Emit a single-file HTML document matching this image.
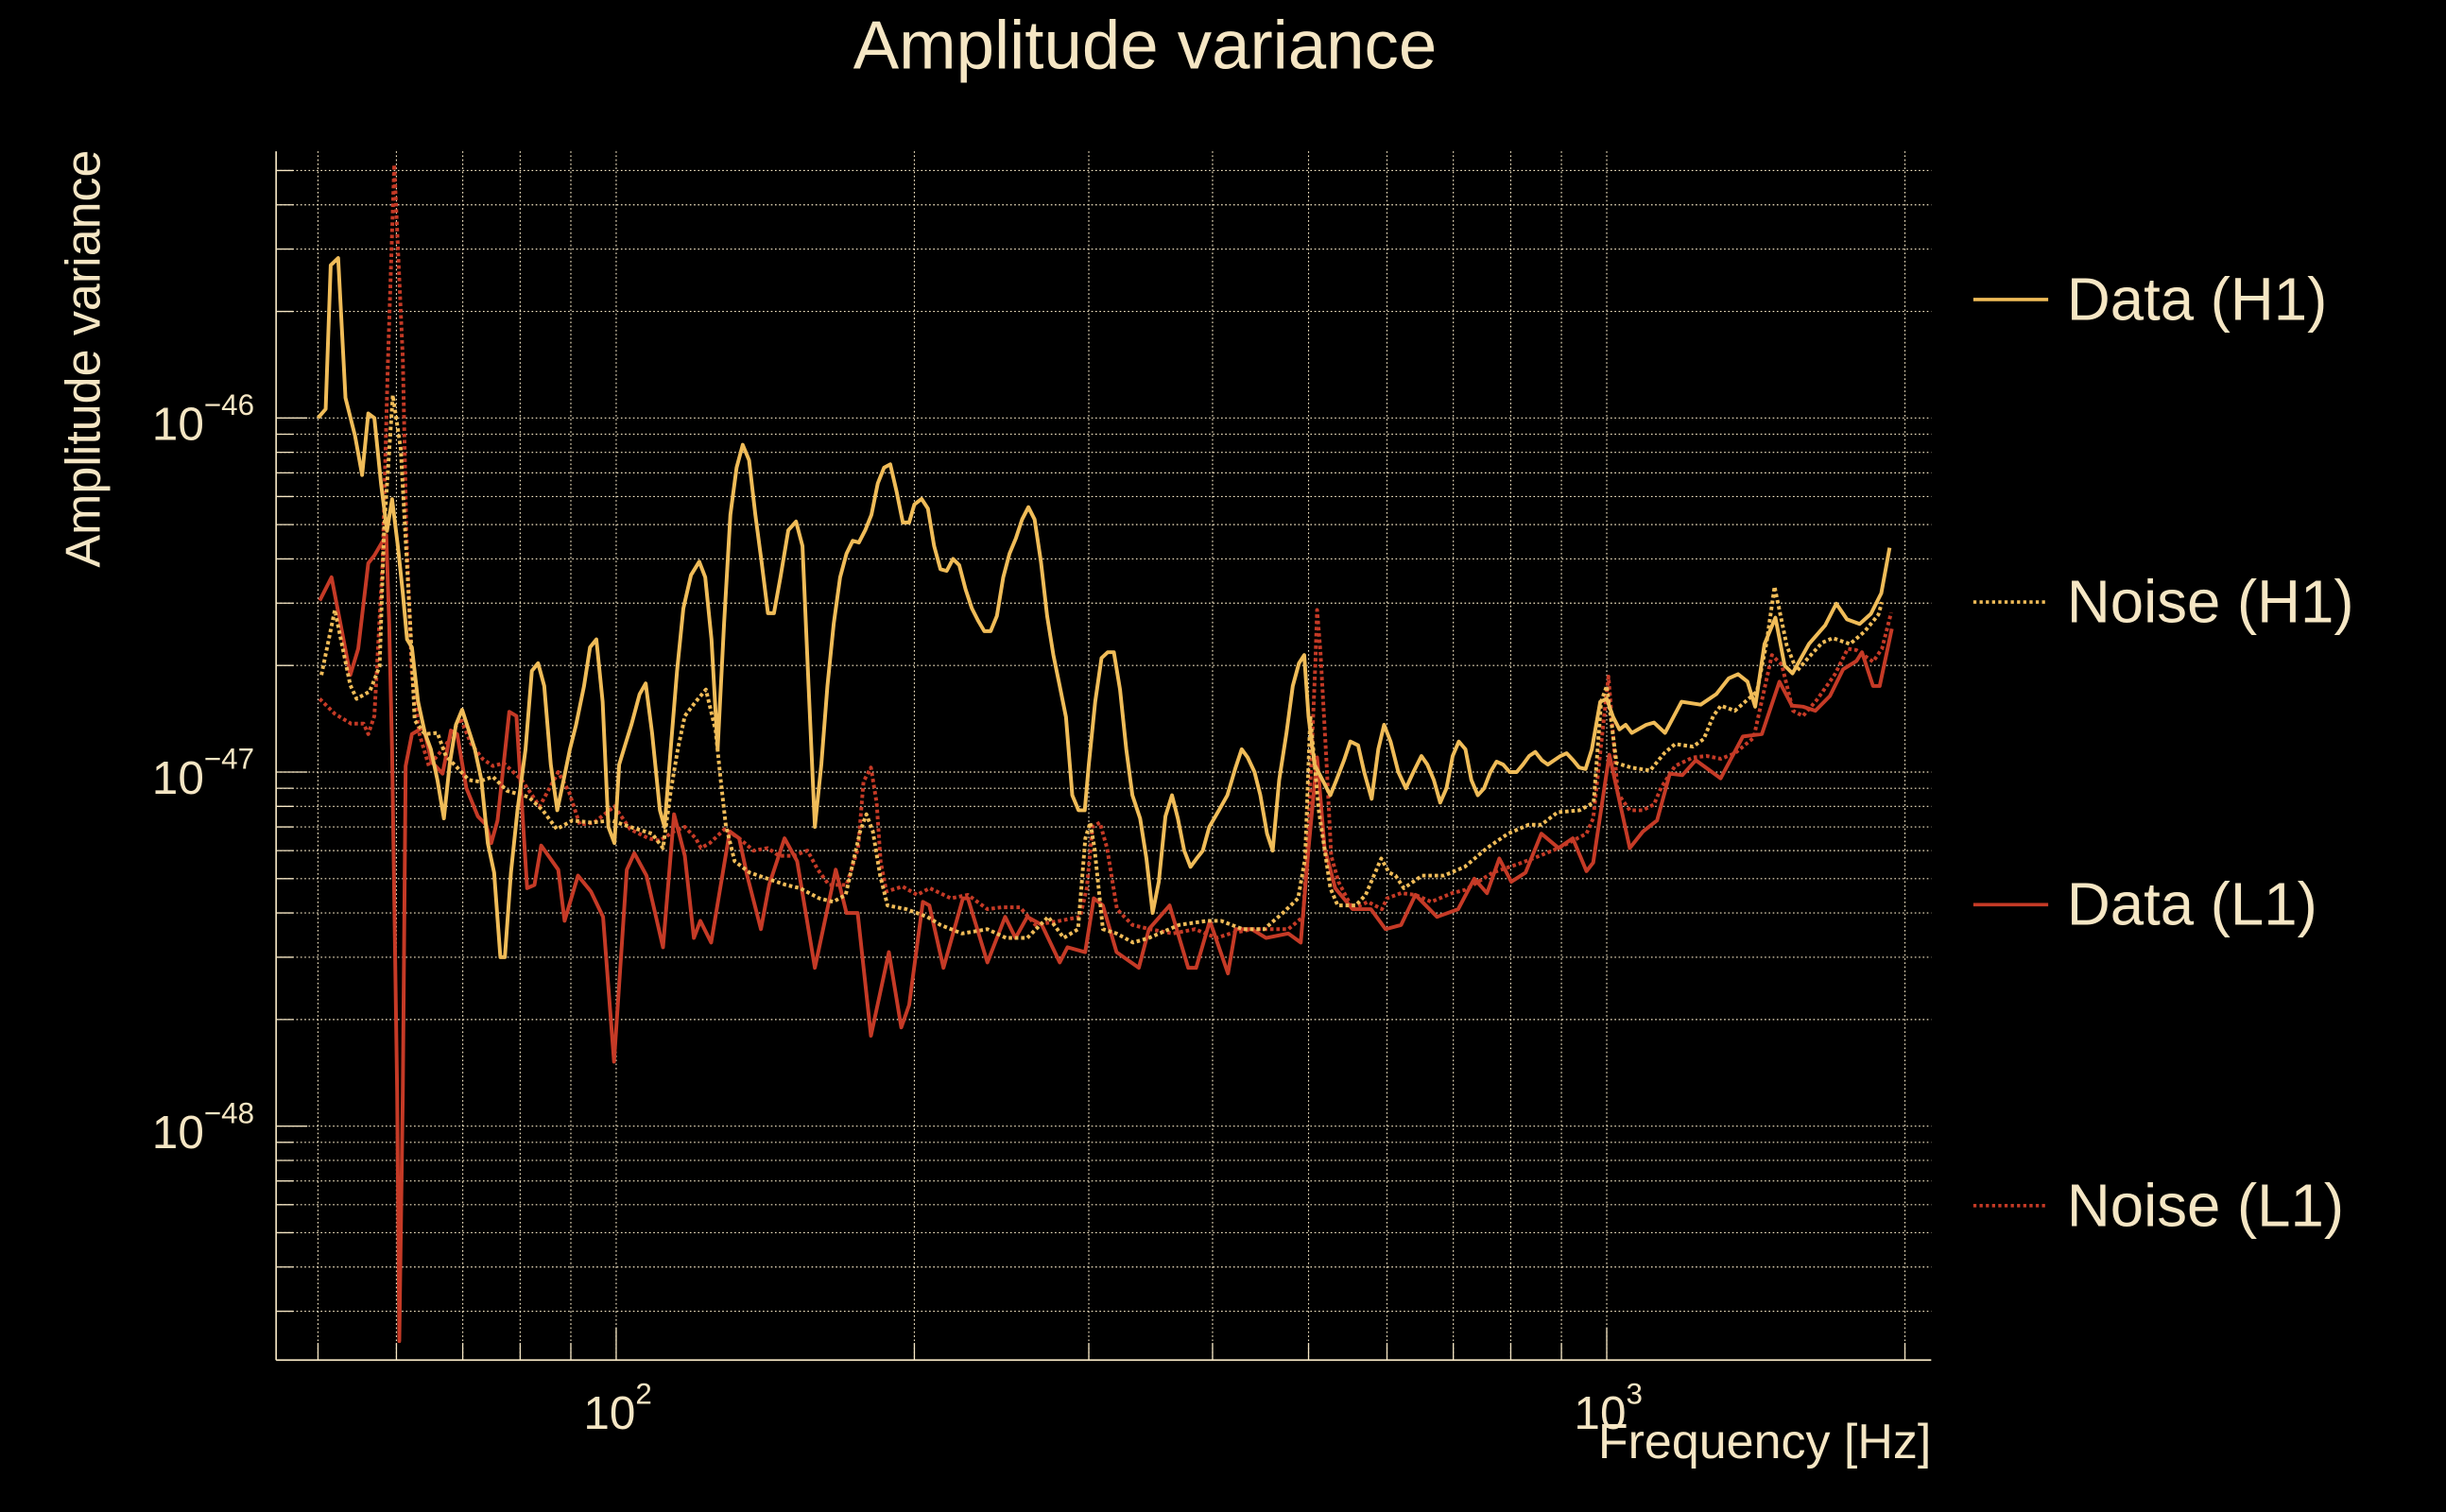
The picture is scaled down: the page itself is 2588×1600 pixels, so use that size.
<!DOCTYPE html>
<html><head><meta charset="utf-8"><title>Amplitude variance</title>
<style>
html,body{margin:0;padding:0;background:#000;}
svg{display:block;}
text{font-family:"Liberation Sans",sans-serif;fill:#f5e6c4;}
</style></head>
<body>
<svg id="chart" width="2588" height="1600" viewBox="0 0 1568 969.4" preserveAspectRatio="none" xmlns="http://www.w3.org/2000/svg">
<rect x="0" y="0" width="1568" height="970" fill="#000"/>
<text x="734" y="44" font-size="44" text-anchor="middle">Amplitude variance</text>
<text transform="translate(64,230) rotate(-90)" font-size="31.5" text-anchor="middle">Amplitude variance</text>
<text x="1238" y="935" font-size="31.5" text-anchor="end">Frequency [Hz]</text>
<g id="grid"></g>
<g id="axes"></g>
<clipPath id="plotclip"><rect x="177" y="97" width="1061" height="775"/></clipPath>
<g id="series" clip-path="url(#plotclip)"></g>
<g id="legend"></g>
</svg>
<script>
// ---- data (values in units of 1e-47) ----
const h1Freq=[50,50.9,51.5,52.4,53.3,54.5,55.4,56.2,57,57.9,58.7,59.4,60.2,60.9,61.5,62.2,63.1,64.1,65,66,67,67.9,68.9,69.9,71,72,73.1,74.2,75.3,76.4,77.2,78.3,79.5,81,82.2,83.4,84.6,85.9,87.2,88.5,89.8,91.1,92.8,94.1,95.5,96.9,98.2,99.6,100.7,101.8,103.6,105.6,107.1,108.7,110.7,111.9,113.5,115.2,116.9,119,121.3,123,124.8,126.6,128.5,130.4,132.3,134.2,136.2,138.2,140.2,142.3,144.3,146.5,149.2,151.9,154.2,156.4,158.7,161.1,163.4,165.8,168.3,170.8,173.3,175.8,178.4,181,183.7,186.4,189.1,191.9,194.7,197.6,200,203.4,206.4,209.4,212.5,215.6,218.8,222,225.3,228.6,231.9,235.3,238.8,242.3,245.9,249.5,253.2,256.9,260.7,264.5,268.4,272.3,276.3,280.4,284.5,288.7,292.9,297.2,300,304.5,309,313.5,318,322.6,327.3,332,338,343,348,353,358.5,364,369,374.5,380,385.5,391,397,406,414,422,428,434,441,447,454,460,467,475,482,489,495,500,507,516.5,526,533.5,543,551,561,569,579,588,596,605,616,627,638,650,659,669,679,689,699,709,720,730,741,752,763,774,786,798,811,823,835,847,860,872,885,898,911,925,938,952,966,985,1000,1015,1030,1045,1060,1096,1116,1145,1190,1244,1290,1328,1357,1387,1412,1443,1480,1512,1540,1600,1662,1705,1748,1800,1848,1893,1930];
const h1Val=[10,10.6,27,28.3,11.4,8.9,6.9,10.3,10,6.5,4.8,5.9,4.35,3.2,2.37,2.25,1.58,1.29,1.16,0.95,0.74,1.05,1.36,1.5,1.31,1.16,0.95,0.63,0.52,0.30,0.30,0.52,0.78,1.16,1.93,2.03,1.75,1.05,0.78,0.95,1.16,1.36,1.75,2.25,2.37,1.58,0.70,0.63,1.05,1.16,1.36,1.66,1.78,1.29,0.78,0.70,1.16,1.93,2.9,3.6,3.93,3.55,2.37,1.16,2.62,5.33,7.24,8.4,7.6,5.33,3.93,2.81,2.81,3.55,4.82,5.1,4.35,1.75,0.70,1.05,1.75,2.62,3.55,4.14,4.5,4.45,4.82,5.33,6.54,7.24,7.4,6.2,5.07,5.07,5.7,5.91,5.55,4.35,3.74,3.7,4.0,3.84,3.28,2.9,2.68,2.5,2.5,2.76,3.55,4.14,4.57,5.17,5.6,5.17,3.93,2.76,2.14,1.75,1.43,0.86,0.78,0.78,1.05,1.58,2.1,2.18,2.18,1.71,1.16,0.86,0.74,0.57,0.40,0.49,0.75,0.86,0.74,0.60,0.54,0.57,0.60,0.70,0.78,0.86,1.03,1.16,1.10,1.0,0.86,0.67,0.60,0.95,1.29,1.75,2.03,2.14,1.43,1.05,0.95,0.86,0.95,1.08,1.22,1.19,1.0,0.84,1.16,1.36,1.22,1.0,0.90,1.0,1.11,1.05,0.95,0.82,0.90,1.11,1.22,1.16,0.95,0.86,0.90,1.0,1.07,1.05,1.0,1.0,1.05,1.11,1.14,1.08,1.05,1.08,1.11,1.13,1.08,1.03,1.02,1.16,1.58,1.61,1.43,1.32,1.36,1.29,1.36,1.38,1.29,1.58,1.55,1.66,1.84,1.89,1.8,1.53,2.3,2.73,2.0,1.9,2.3,2.6,2.99,2.7,2.62,2.8,3.2,4.3];

const nh1Freq=[50.4,52.0,53.9,54.7,56.4,57.7,58.3,59.5,60.6,62.0,62.6,64.1,66.0,67.3,69.1,71.0,72.7,75.1,77.6,81.6,84.3,87.1,90.3,94.4,98.9,103.3,108.7,111.5,113.5,115.4,117.3,120.3,123.2,126.0,127.5,129,131.7,136.4,142.1,148.4,153.3,160.3,165.6,170.5,176.3,178.9,181.6,184.7,187.9,196.3,206.1,212.5,223.4,237,247.5,260,273,283,292.6,297.6,301,304,310,320,332.5,345,370,395,408,429,451,471,488,496,502,512,526,535,558,571,592,603,612,624,651,685,719,757,795,834,859,892,939,970,987,1000,1023,1058,1106,1143,1172,1222,1253,1281,1304,1347,1418,1450,1477,1520,1556,1597,1650,1691,1760,1820,1880,1896];
const nh1Val=[1.88,2.87,1.76,1.61,1.69,1.99,4.82,11.6,8.2,2.52,1.40,1.28,1.29,1.11,1.03,0.95,0.94,0.97,0.885,0.85,0.78,0.69,0.73,0.72,0.73,0.70,0.67,0.61,0.88,1.16,1.44,1.58,1.71,1.31,0.95,0.71,0.56,0.52,0.50,0.48,0.47,0.44,0.43,0.45,0.68,0.76,0.68,0.51,0.42,0.41,0.39,0.37,0.35,0.36,0.34,0.34,0.39,0.34,0.36,0.65,0.72,0.61,0.36,0.35,0.33,0.34,0.37,0.38,0.38,0.36,0.36,0.40,0.44,0.57,1.44,0.78,0.47,0.42,0.42,0.45,0.57,0.52,0.51,0.47,0.51,0.51,0.54,0.61,0.67,0.71,0.71,0.77,0.78,0.82,1.58,1.75,1.06,1.03,1.01,1.13,1.2,1.18,1.24,1.44,1.54,1.49,1.69,2.32,3.34,2.27,1.93,2.10,2.32,2.39,2.30,2.49,2.78,3.02];

const l1Freq=[50.2,51.6,53.9,54.9,56.2,57.0,58.6,59.0,59.4,60.1,60.4,60.9,61.3,62.2,63.9,65.1,66.8,68.1,69.1,70.6,72.5,73.9,74.8,75.9,78.0,79.3,81.3,82.7,84.0,87.4,88.7,91.5,94.3,97.0,99.5,102.5,104.3,107.3,111.5,114.4,117.3,119.8,121.6,124.7,130.2,133.1,135.6,140,142.7,147.9,152.3,158.7,166.6,170.8,175.3,180.8,188.5,194,197.6,204,207.1,214,223.9,226.5,237,247,253,260,269,280.4,285.5,297.5,303.5,310,320,337,345,362,378,385,397.5,414.6,422,438,453,477,491,500,510,519,532,554,578,598,620,641,674,708,735,757,779,801,828,859,894,924,954,969,1006,1055,1088,1124,1158,1192,1230,1303,1372,1434,1494,1538,1578,1624,1680,1732,1787,1810,1857,1886,1940];
const l1Val=[3.05,3.55,1.88,2.23,3.89,4.09,4.67,2.62,1.14,0.125,0.0247,0.125,1.04,1.28,1.34,1.07,0.99,1.31,1.28,0.90,0.75,0.71,0.63,0.73,1.48,1.44,0.47,0.48,0.62,0.53,0.38,0.51,0.46,0.39,0.152,0.53,0.59,0.51,0.32,0.76,0.58,0.34,0.38,0.33,0.68,0.65,0.51,0.36,0.48,0.65,0.56,0.28,0.53,0.40,0.40,0.18,0.31,0.19,0.22,0.43,0.42,0.28,0.44,0.44,0.29,0.39,0.34,0.39,0.37,0.29,0.32,0.31,0.44,0.42,0.31,0.28,0.36,0.42,0.28,0.28,0.38,0.27,0.36,0.36,0.34,0.35,0.33,0.61,1.1,0.61,0.47,0.41,0.41,0.36,0.37,0.45,0.39,0.41,0.50,0.455,0.57,0.49,0.52,0.67,0.61,0.65,0.525,0.555,1.12,0.61,0.68,0.73,0.99,0.98,1.08,0.96,1.26,1.28,1.80,1.54,1.53,1.49,1.64,1.95,2.06,2.18,1.75,1.75,2.54];

const nl1Freq=[50.2,52.0,54.0,55.6,56.2,57.0,58.1,58.8,59.7,60.9,61.4,62.2,63.3,64.7,67.3,69.6,71.4,73.3,75.1,77.0,80.3,83.7,87.4,89.6,91.9,95.0,99.6,103.3,107.8,110.6,114.4,117.3,120.3,121.8,124.3,128.7,133.1,137.6,142.2,146,151,156,159.8,164,170.8,175.5,177.7,180.8,183.2,184.9,187.4,194.6,201.3,207.3,217.7,226.5,237,245,255.7,265,280.4,294,298.6,302.6,307.8,313,320.3,332,345.7,364.8,384,403.6,417,438.8,453,477,493.7,500,508,510,514,521,527,536,554,574,593,600,620,641,665,698,720,767,814,849,894,954,969,1004,1026,1055,1087,1116,1135,1172,1222,1262,1304,1347,1407,1468,1502,1542,1578,1630,1700,1751,1787,1857,1896,1937];
const nl1Val=[1.61,1.46,1.37,1.37,1.28,1.44,3.9,13.8,52,14.7,4.78,1.88,1.28,1.04,1.19,1.42,1.2,1.09,1.04,1.06,0.95,0.80,1.0,0.88,0.71,0.72,0.80,0.69,0.65,0.64,0.68,0.70,0.65,0.61,0.63,0.69,0.65,0.60,0.61,0.58,0.58,0.60,0.53,0.48,0.48,0.61,0.94,1.03,0.82,0.56,0.46,0.475,0.45,0.47,0.44,0.45,0.41,0.415,0.415,0.37,0.38,0.39,0.47,0.70,0.72,0.61,0.41,0.37,0.36,0.35,0.36,0.34,0.35,0.36,0.36,0.36,0.39,0.70,2.03,2.87,2.19,1.1,0.58,0.49,0.41,0.43,0.41,0.44,0.455,0.45,0.43,0.455,0.465,0.52,0.55,0.575,0.61,0.67,0.74,1.86,0.87,0.78,0.78,0.81,0.905,1.04,1.10,1.11,1.09,1.13,1.25,2.14,2.01,1.49,1.44,1.60,1.89,2.23,2.21,2.05,2.23,2.82];

const yTickExps=[-46,-47,-48];
const xTickExps=[2,3];
const legendLabels=["Data (H1)","Noise (H1)","Data (L1)","Noise (L1)"];

// ---- scales ----
const UNIT_EXP=-47;
function xs(f){return 395+635*(Math.log10(f)-2);}
function ysLog(e){return 495-227*(e-UNIT_EXP);}
function ys(u){return ysLog(Math.log10(u)+UNIT_EXP);}
const PL=177,PR=1238,PT=97,PB=872;
const NS="http://www.w3.org/2000/svg";
const CREAM="#f5e6c4",GOLD="#f0bc58",RED="#c53a26";
function mk(tag,attrs,parent){const e=document.createElementNS(NS,tag);for(const k in attrs)e.setAttribute(k,attrs[k]);parent.appendChild(e);return e;}

const grid=document.getElementById('grid'),axes=document.getElementById('axes');
for(let d=1;d<=3;d++){for(let k=1;k<=9;k++){const f=k*Math.pow(10,d);const x=xs(f);if(x<PL||x>PR)continue;
  const gl=mk('line',{x1:x,x2:x,y1:PT,y2:PB,stroke:CREAM,'stroke-width':0.7,'stroke-dasharray':'1 1.6'},grid);
  
  
  const tk=mk('line',{x1:x,x2:x,y1:PB,y2:PB-(k===1?21:11),stroke:CREAM,'stroke-width':0.8},axes);
  
  
}}
for(let e=-49;e<=-45;e++){for(let k=1;k<=9;k++){const le=Math.log10(k)+e;const y=ysLog(le);if(y<PT||y>PB)continue;
  const gl=mk('line',{x1:PL,x2:PR,y1:y,y2:y,stroke:CREAM,'stroke-width':0.7,'stroke-dasharray':'1 1.6'},grid);
  
  
  const tk=mk('line',{x1:PL,x2:PL+(k===1?20:11),y1:y,y2:y,stroke:CREAM,'stroke-width':0.8},axes);
  
  
}}
const sp1=mk('line',{x1:PL,x2:PL,y1:PT,y2:PB,stroke:CREAM,'stroke-width':1},axes);


const sp2=mk('line',{x1:PL,x2:PR,y1:PB,y2:PB,stroke:CREAM,'stroke-width':1},axes);


yTickExps.forEach(e=>{const y=ysLog(e);
  const t=mk('text',{x:163,y:y+14,'font-size':30,'text-anchor':'end'},axes);
  
  
  t.textContent='10';
  const s=mk('tspan',{dy:-16,'font-size':19},t);s.textContent='\u2212'+Math.abs(e);
});
xTickExps.forEach(d=>{const x=xs(Math.pow(10,d));
  const t=mk('text',{x:x+1,y:916,'font-size':30,'text-anchor':'middle'},axes);
  
  
  t.textContent='10';
  const s=mk('tspan',{dy:-16,'font-size':19},t);s.textContent=String(d);
});
const seriesLayer=document.getElementById('series');
function drawSeries(fr,vals,color,dotted,name){
  const n=Math.min(fr.length,vals.length);let d='';
  for(let i=0;i<n;i++){d+=(i?'L':'M')+xs(fr[i]).toFixed(2)+','+ys(vals[i]).toFixed(2);}
  const p=mk('path',{d:d,fill:'none',stroke:color,'stroke-width':2.4,'stroke-linejoin':'round'},seriesLayer);
  if(dotted)p.setAttribute('stroke-dasharray','2.2 1.8');
  
  
}
drawSeries(nl1Freq,nl1Val,RED,true,'noise-l1-line');
drawSeries(l1Freq,l1Val,RED,false,'data-l1-line');
drawSeries(nh1Freq,nh1Val,GOLD,true,'noise-h1-line');
drawSeries(h1Freq,h1Val,GOLD,false,'data-h1-line');
const legend=document.getElementById('legend');
const legColors=[GOLD,GOLD,RED,RED],legDotted=[false,true,false,true],legY=[192,386,580,773];
legendLabels.forEach((lab,i)=>{
  const g=mk('g',{},legend);
  
  
  const l=mk('line',{x1:1265,x2:1313,y1:legY[i],y2:legY[i],stroke:legColors[i],'stroke-width':2.2},g);
  if(legDotted[i])l.setAttribute('stroke-dasharray','2 2');
  
  
  const t=mk('text',{x:1325,y:legY[i]+13,'font-size':38.5},g);
  
  
  t.textContent=lab;
});
</script>
</body></html>
